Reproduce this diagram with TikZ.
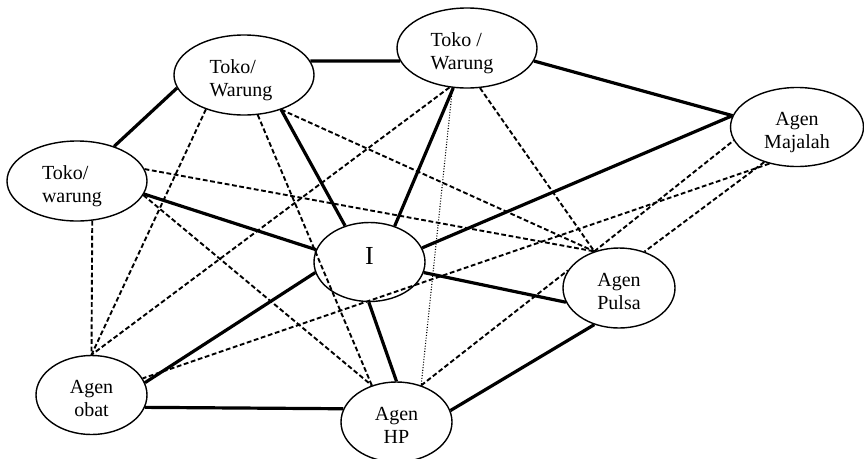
\documentclass[tikz,border=0pt]{standalone}
\usepackage{fontspec}
\setmainfont{Liberation Serif}
\usetikzlibrary{shapes.geometric}
\newcommand{\duaBaris}[2]{\rule{0pt}{24pt}#1\\#2\rule[-5pt]{0pt}{5pt}}
\begin{document}
\begin{tikzpicture}[x=1pt,y=-1pt,
  oval/.style={ellipse, draw, line width=1.4pt, fill=white, inner sep=0pt,
    font=\fontsize{20}{23}\selectfont, align=center},
  tie/.style={line width=3.2pt},
  dashlink/.style={line width=1.9pt, dash pattern=on 4.8pt off 2.6pt},
  dotlink/.style={line width=1.1pt, dash pattern=on 1pt off 1.7pt}]
\useasboundingbox (0,0) rectangle (864,458);
% nodes
\node[oval, minimum width=140pt, minimum height=80pt, align=left] (t1) at (77,181) {\duaBaris{Toko/}{warung\hspace*{10pt}}};
\node[oval, minimum width=140pt, minimum height=80pt, align=left] (t2) at (244,75) {\duaBaris{Toko/}{Warung\hspace*{6pt}}};
\node[oval, minimum width=140pt, minimum height=80pt, align=left] (t3) at (467,48) {\duaBaris{Toko /}{Warung\hspace*{10pt}}};
\node[oval, minimum width=133pt, minimum height=79pt] (mj) at (797,127) {\duaBaris{Agen}{Majalah}};
\node[oval, minimum width=111pt, minimum height=79pt, font=\fontsize{26}{30}\selectfont] (i) at (369.5,262) {I\rule[-13pt]{0pt}{13pt}};
\node[oval, minimum width=112pt, minimum height=80pt] (pl) at (619,288) {\duaBaris{Agen}{Pulsa}};
\node[oval, minimum width=111pt, minimum height=79pt] (ob) at (91.5,395) {\duaBaris{Agen}{obat}};
\node[oval, minimum width=111pt, minimum height=80pt] (hp) at (396.5,422) {\duaBaris{Agen}{HP}};
% solid connectors
\draw[tie] (t1.43) -- (t2.191);
\draw[tie] (t2.12) -- (t3.191);
\draw[tie] (t3.-11) -- (mj.170);
\draw[tie] (t1.-11) -- (i.167);
\draw[tie] (t2.-43) -- (i.124);
\draw[tie] (t3.251) -- (i.55);
\draw[tie] (mj.170) -- (i.15);
\draw[tie] (i.-11) -- (pl.195);
\draw[tie] (i.-91) -- (hp.90);
\draw[tie] (i.191) -- (ob.13);
\draw[tie] (ob.-13) -- (hp.166);
\draw[tie] (hp.12) -- (pl.236);
% dashed connectors
\draw[dashlink] (t1.-69) -- (ob.90);
\draw[dashlink] (t2.222) -- (ob.90);
\draw[dashlink] (t3.246) -- (ob.90);
\draw[dashlink] (t1.-12) -- (hp.124);
\draw[dashlink] (t2.-71) -- (hp.124);
\draw[dashlink] (t1.10) -- (pl.124);
\draw[dashlink] (t2.-43) -- (pl.124);
\draw[dashlink] (t3.-72) -- (pl.124);
\draw[dashlink] (mj.233) -- (ob.18);
\draw[dashlink] (mj.227) -- (pl.55);
\draw[dashlink] (hp.56) -- (pl.161);
\draw[dashlink] (pl.124) -- (mj.192);
% dotted connector
\draw[dotlink] (t3.250) -- (hp.56);
\end{tikzpicture}
\end{document}
